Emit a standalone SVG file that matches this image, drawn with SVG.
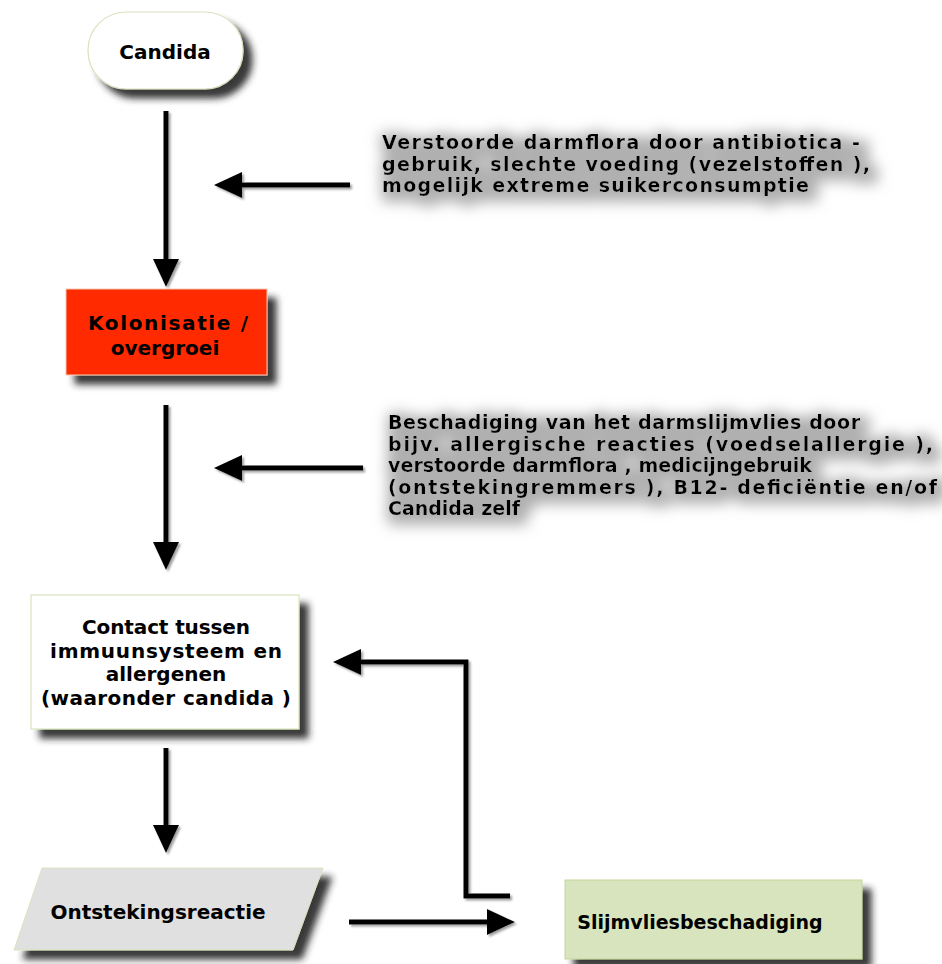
<svg xmlns="http://www.w3.org/2000/svg" width="942" height="964" viewBox="0 0 942 964">
<style>
.nt{font-family:"DejaVu Sans",Verdana,sans-serif;font-weight:bold;font-size:20px;fill:#000;text-anchor:middle}
.bt{font-family:"DejaVu Sans",Verdana,sans-serif;font-weight:bold;font-size:19px;fill:#000}
.conn{fill:none;stroke:#000;stroke-width:5}
</style>
<defs>
<filter id="sh" x="-10%" y="-10%" width="135%" height="145%">
<feGaussianBlur in="SourceAlpha" stdDeviation="3.5"/>
<feOffset dx="9" dy="9" result="b"/>
<feFlood flood-color="#222" flood-opacity="0.9"/>
<feComposite in2="b" operator="in"/>
<feMerge><feMergeNode/><feMergeNode in="SourceGraphic"/></feMerge>
</filter>
<filter id="glow" x="-5%" y="-40%" width="115%" height="190%">
<feMorphology in="SourceAlpha" operator="dilate" radius="6"/>
<feGaussianBlur stdDeviation="7"/>
<feOffset dx="4" dy="4" result="b"/>
<feFlood flood-color="#b0b0b0"/>
<feComposite in2="b" operator="in"/>
<feMerge><feMergeNode/><feMergeNode in="SourceGraphic"/></feMerge>
</filter>
<filter id="ash" x="-20%" y="-20%" width="140%" height="140%">
<feGaussianBlur in="SourceAlpha" stdDeviation="0.8"/>
<feOffset dx="2" dy="2" result="b"/>
<feFlood flood-color="#777" flood-opacity="0.7"/>
<feComposite in2="b" operator="in"/>
<feMerge><feMergeNode/><feMergeNode in="SourceGraphic"/></feMerge>
</filter>
<marker id="ah" markerUnits="userSpaceOnUse" viewBox="0 0 30 28" markerWidth="30" markerHeight="28" refX="18" refY="13" orient="auto">
<path d="M0,0 L28,13 L0,26 z" fill="#000"/>
</marker>
</defs>
<rect width="942" height="964" fill="#fff"/>

<g id="candida">
<rect x="88" y="12" width="155" height="77" rx="38" ry="38" fill="#fff" stroke="#d7e4bd" stroke-width="1.2" filter="url(#sh)"/>
<text class="nt" x="165" y="59">Candida</text>
</g>

<g id="kolonisatie">
<rect x="66" y="289" width="201" height="86" fill="#ff2a00" stroke="#f2c8b0" stroke-width="1" filter="url(#sh)"/>
<text class="nt" x="168" y="330" textLength="160" lengthAdjust="spacing">Kolonisatie /</text>
<text class="nt" x="165" y="355">overgroei</text>
</g>

<g id="oorzaken1" filter="url(#glow)">
<text class="bt" x="382" y="149" textLength="478" lengthAdjust="spacing">Verstoorde  darmflora  door  antibiotica -</text>
<text class="bt" x="382" y="170.5" textLength="488" lengthAdjust="spacing">gebruik, slechte  voeding  (vezelstoffen ),</text>
<text class="bt" x="382" y="192" textLength="427" lengthAdjust="spacing">mogelijk  extreme  suikerconsumptie</text>
</g>

<g id="oorzaken2" filter="url(#glow)">
<text class="bt" x="388" y="429" textLength="472" lengthAdjust="spacing">Beschadiging  van  het darmslijmvlies   door</text>
<text class="bt" x="388" y="450.5" textLength="545" lengthAdjust="spacing">bijv. allergische  reacties (voedselallergie ),</text>
<text class="bt" x="388" y="472" textLength="424" lengthAdjust="spacing">verstoorde  darmflora , medicijngebruik</text>
<text class="bt" x="388" y="493.5" textLength="549" lengthAdjust="spacing">(ontstekingremmers ), B12- deficiëntie  en/of</text>
<text class="bt" x="388" y="515" textLength="132" lengthAdjust="spacing">Candida  zelf</text>
</g>

<g id="contact">
<rect x="31" y="595" width="268" height="134" fill="#fff" stroke="#d7e4bd" stroke-width="1.2" filter="url(#sh)"/>
<text class="nt" x="166" y="634" textLength="168" lengthAdjust="spacing">Contact  tussen</text>
<text class="nt" x="166" y="658" textLength="232" lengthAdjust="spacing">immuunsysteem  en</text>
<text class="nt" x="166" y="681">allergenen</text>
<text class="nt" x="166" y="705" textLength="250" lengthAdjust="spacing">(waaronder  candida )</text>
</g>

<g id="ontsteking">
<polygon points="42,868 323,868 293,950 14,950" fill="#e0e0e0" stroke="#d7e4bd" stroke-width="1" filter="url(#sh)"/>
<text class="nt" x="158" y="919">Ontstekingsreactie</text>
</g>

<g id="slijmvlies">
<rect x="565" y="880" width="297" height="79" fill="#d7e4bd" stroke="#c3d69b" stroke-width="1" filter="url(#sh)"/>
<text class="nt" x="700" y="929" style="font-size:19px">Slijmvliesbeschadiging</text>
</g>

<g id="connectors" filter="url(#ash)">
<path class="conn" d="M166,111 V277" marker-end="url(#ah)"/>
<path class="conn" d="M350,185 H224" marker-end="url(#ah)"/>
<path class="conn" d="M166,405 V560" marker-end="url(#ah)"/>
<path class="conn" d="M363,468 H224" marker-end="url(#ah)"/>
<path class="conn" d="M166,748 V843" marker-end="url(#ah)"/>
<path class="conn" d="M510,896 H466 V662 H343" marker-end="url(#ah)"/>
<path class="conn" d="M349,922 H505" marker-end="url(#ah)"/>
</g>
</svg>
